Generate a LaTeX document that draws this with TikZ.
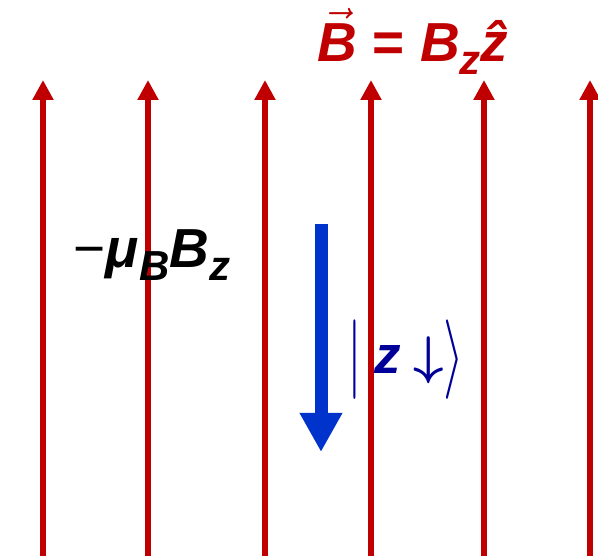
\RequirePackage{fix-cm}
\documentclass[tikz,border=0pt]{standalone}
\usepackage{fontspec}
\setmainfont{Liberation Sans}
\usepackage{graphicx}
\usepackage{tikz}
\usetikzlibrary{arrows.meta}
\definecolor{fieldred}{HTML}{C00000}
\definecolor{spinblue}{HTML}{0033CC}
\definecolor{ketblue}{HTML}{000099}
\newcommand{\lowsub}[1]{\raisebox{-0.22em}{\fontsize{42}{42}\selectfont #1}}
\newcommand{\tallfence}[1]{\raisebox{-6.5pt}{\scalebox{1}[1.5]{$#1$}}}
\tikzset{fieldline/.style={-{Triangle[length=20pt,width=20pt]},line width=6pt,draw=fieldred}, spin/.style={-{Triangle[length=39pt,width=40pt]},line width=13pt,draw=spinblue}, lbl/.style={inner sep=0pt,font=\fontsize{55}{60}\selectfont\bfseries\itshape}}

\begin{document}
\begin{tikzpicture}[x=1pt,y=1pt]
\useasboundingbox (0,0) rectangle (598,556);
% field lines of B
\foreach \fx [count=\i] in {43,148,265,371,484,590}{
  \coordinate (foot\i) at (\fx,0);
  \coordinate (tip\i) at (\fx,476);
  \draw[fieldline] (foot\i)--(tip\i);
}
% spin down
\coordinate (spintop) at (321,332);
\coordinate (spintip) at (321,104);
\draw[spin] (spintop)--(spintip);
\node[lbl,text=fieldred,anchor=base] (field) at (413,494) {$\vec{\mbox{B}}$ {\upshape =} B\lowsub{z}\^{z}};
\node[lbl,anchor=base] (energy) at (152,288) {{\mdseries\upshape −}μ\lowsub{B}B\lowsub{z}};
\node[lbl,text=ketblue,font=\fontsize{53}{56}\selectfont\bfseries\itshape] (ket) at (406,196) {\tallfence{|}\hspace{12pt}z\hspace{12pt}{\boldmath$\downarrow$}\tallfence{\rangle}};
\end{tikzpicture}
\end{document}
